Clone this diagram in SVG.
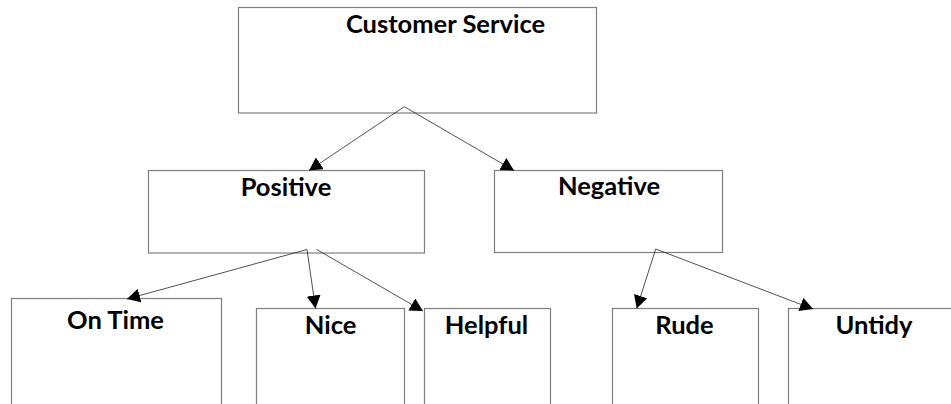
<svg xmlns="http://www.w3.org/2000/svg" width="951" height="404" viewBox="0 0 951 404">
<style>
.box{fill:#ffffff;stroke:#7f7f7f;stroke-width:1.2}
.lbl{font-family:Lato,"Open Sans","Liberation Sans",sans-serif;font-weight:700;font-size:25.5px;fill:#000;text-anchor:middle}
.con{stroke:#262626;stroke-width:0.8;fill:none;marker-end:url(#ah)}
</style>
<defs>
<marker id="ah" markerWidth="13" markerHeight="14" refX="13" refY="7" orient="auto" markerUnits="userSpaceOnUse">
<path d="M0,0 L13,7 L0,14 z" fill="#000"/>
</marker>
</defs>
<rect width="951" height="404" fill="#ffffff"/>
<g id="customer-service">
<rect class="box" x="238.5" y="7.5" width="358" height="105.5"/>
<text class="lbl" x="445.5" y="33">Customer Service</text>
</g>
<g id="positive">
<rect class="box" x="148.5" y="170.5" width="276" height="82.5"/>
<text class="lbl" x="286" y="196">Positive</text>
</g>
<g id="negative">
<rect class="box" x="494.5" y="170.5" width="228" height="82"/>
<text class="lbl" x="609" y="195">Negative</text>
</g>
<g id="on-time">
<rect class="box" x="11.5" y="298.5" width="210" height="120"/>
<text class="lbl" x="115.5" y="328.5">On Time</text>
</g>
<g id="nice">
<rect class="box" x="256.5" y="308.5" width="148" height="110"/>
<text class="lbl" x="330.5" y="333.5">Nice</text>
</g>
<g id="helpful">
<rect class="box" x="424.5" y="308.5" width="126" height="110"/>
<text class="lbl" x="486.5" y="333.5">Helpful</text>
</g>
<g id="rude">
<rect class="box" x="612.5" y="308.5" width="146" height="110"/>
<text class="lbl" x="684.5" y="333.5">Rude</text>
</g>
<g id="untidy">
<rect class="box" x="788.5" y="308.5" width="180" height="110"/>
<text class="lbl" x="874" y="333.5">Untidy</text>
</g>
<g id="connectors">
<line class="con" x1="404.3" y1="106.7" x2="309" y2="170.5"/>
<line class="con" x1="404.3" y1="106.7" x2="514" y2="170.5"/>
<line class="con" x1="307" y1="249.5" x2="127" y2="299"/>
<line class="con" x1="307" y1="249.5" x2="315.5" y2="308.5"/>
<line class="con" x1="316.7" y1="249.5" x2="423" y2="311"/>
<line class="con" x1="655.7" y1="249" x2="636.7" y2="308.5"/>
<line class="con" x1="655.7" y1="249" x2="813" y2="309"/>
</g>
</svg>
